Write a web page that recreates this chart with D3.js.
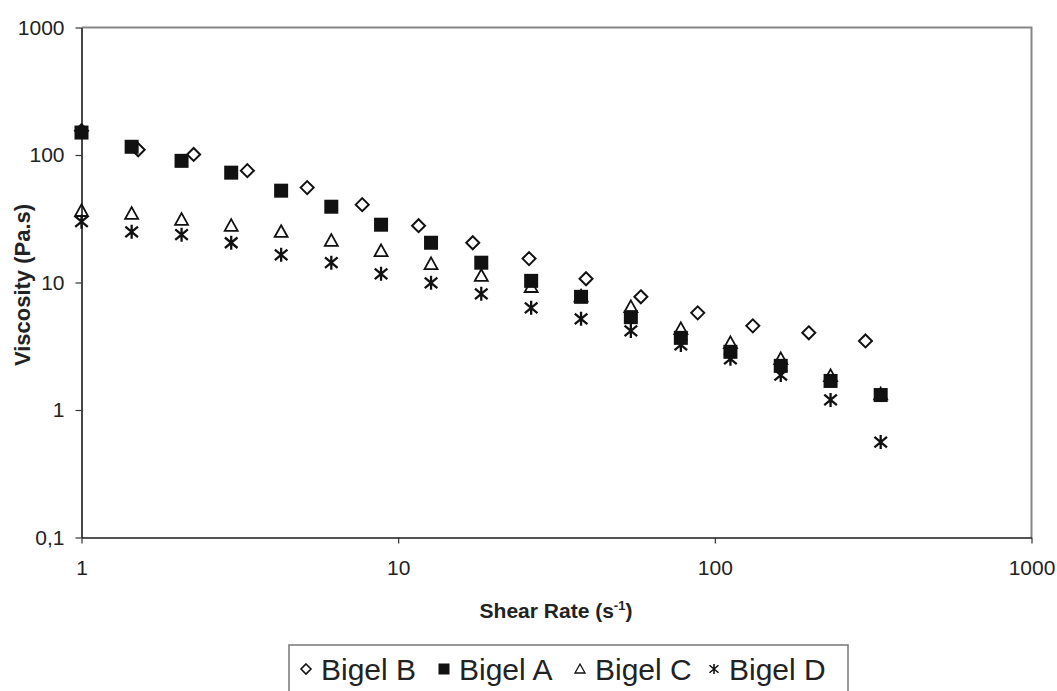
<!DOCTYPE html>
<html>
<head>
<meta charset="utf-8">
<script src="https://cdn.jsdelivr.net/npm/d3@7"></script>
<style>
  html, body { margin: 0; padding: 0; background: #fff; }
  svg { display: block; font-family: "Liberation Sans", Arial, sans-serif; }
</style>
</head>
<body>
<svg id="chart" width="1057" height="691"></svg>
<script>
// Shear rate (s^-1) for each series
const shearA = [1, 1.44, 2.07, 2.97, 4.27, 6.15, 8.83, 12.7, 18.3, 26.3, 37.8, 54.3, 78.1, 112, 161.5, 232, 334];
const shearB = [1, 1.51, 2.26, 3.34, 5.16, 7.7, 11.6, 17.2, 25.9, 39.2, 58.4, 88.3, 131.8, 198, 299];
const shearC = shearA;
const shearD = shearA;

// Viscosity (Pa.s)
const bigelB = [155, 110, 101, 75.4, 55.5, 40.8, 27.9, 20.5, 15.4, 10.7, 7.72, 5.78, 4.57, 4.03, 3.48];
const bigelA = [150, 116, 90, 72.7, 52.5, 39.3, 28.4, 20.5, 14.3, 10.3, 7.72, 5.35, 3.68, 2.86, 2.22, 1.69, 1.31];
const bigelC = [36.5, 34.7, 31.1, 27.9, 25.0, 21.3, 17.7, 14.0, 11.3, 9.25, 7.8, 6.44, 4.33, 3.36, 2.52, 1.85, 1.33];
const bigelD = [30.0, 25.0, 23.7, 20.5, 16.5, 14.3, 11.7, 9.95, 8.15, 6.33, 5.19, 4.17, 3.24, 2.52, 1.88, 1.20, 0.56];

const xTicks = [1, 10, 100, 1000];
const yTicks = [0.1, 1, 10, 100, 1000];
const yTickLabels = ["0,1", "1", "10", "100", "1000"];

const seriesList = [
  { name: "Bigel B", x: shearB, y: bigelB, marker: "diamond" },
  { name: "Bigel A", x: shearA, y: bigelA, marker: "square" },
  { name: "Bigel C", x: shearC, y: bigelC, marker: "triangle" },
  { name: "Bigel D", x: shearD, y: bigelD, marker: "asterisk" }
];

const svg = d3.select("#chart");
const plotLeft = 81.5, plotRight = 1031.5, plotTop = 27.5, plotBottom = 537.5;

const x = d3.scaleLog().domain([1, 1000]).range([plotLeft, plotRight]);
const y = d3.scaleLog().domain([0.1, 1000]).range([plotBottom, plotTop]);

// plot frame: gray top and right edges
svg.append("path")
  .attr("d", `M${plotLeft},${plotTop}H${plotRight}V${plotBottom}`)
  .attr("fill", "none").attr("stroke", "#858585").attr("stroke-width", 2);

// y axis
const yAxis = svg.append("g").attr("transform", `translate(${plotLeft},0)`)
  .call(d3.axisLeft(y).tickValues(yTicks)
    .tickFormat((d, i) => yTickLabels[i]).tickSizeOuter(0).tickSizeInner(6).tickPadding(11));
// x axis
const xAxis = svg.append("g").attr("transform", `translate(0,${plotBottom})`)
  .call(d3.axisBottom(x).tickValues(xTicks)
    .tickFormat(d3.format("d")).tickSizeOuter(0).tickSizeInner(6).tickPadding(17));

[yAxis, xAxis].forEach(g => {
  g.select(".domain").attr("stroke", "#1a1a1a").attr("stroke-width", 1.6);
  g.selectAll(".tick line").attr("stroke", "#333").attr("stroke-width", 1.2);
  g.selectAll(".tick text").attr("fill", "#222").style("font-size", "21px")
    .style("font-family", "'Liberation Sans', Arial, sans-serif");
});

// axis titles
svg.append("text")
  .attr("transform", "translate(30,285) rotate(-90)")
  .attr("text-anchor", "middle")
  .style("font-size", "22px").style("font-weight", "bold").attr("fill", "#222")
  .text("Viscosity (Pa.s)");

const xt = svg.append("text")
  .attr("x", 556).attr("y", 618)
  .attr("text-anchor", "middle")
  .style("font-size", "21px").style("font-weight", "bold").attr("fill", "#222");
xt.append("tspan").text("Shear Rate (s");
xt.append("tspan").attr("dy", -8).style("font-size", "13px").text("-1");
xt.append("tspan").attr("dy", 8).text(")");

// marker shapes
function drawMarker(g, type, s) {
  const h = s / 2;
  if (type === "square") {
    g.append("rect").attr("x", -h).attr("y", -h).attr("width", s).attr("height", s)
      .attr("fill", "#111");
  } else if (type === "diamond") {
    g.append("path").attr("d", `M0,${-h}L${h},0L0,${h}L${-h},0Z`)
      .attr("fill", "none").attr("stroke", "#111").attr("stroke-width", s > 11 ? 2 : 1.6);
  } else if (type === "triangle") {
    g.append("path").attr("d", `M0,${-h}L${h},${h * 0.8}L${-h},${h * 0.8}Z`)
      .attr("fill", "none").attr("stroke", "#111").attr("stroke-width", s > 11 ? 1.8 : 1.3);
  } else if (type === "asterisk") {
    g.append("path")
      .attr("d", `M0,${-h}V${h}M${-h * 0.9},${-h * 0.75}L${h * 0.9},${h * 0.75}M${-h * 0.9},${h * 0.75}L${h * 0.9},${-h * 0.75}`)
      .attr("fill", "none").attr("stroke", "#111").attr("stroke-width", s > 11 ? 2.3 : 1.6);
  }
}

const plot = svg.append("g");
seriesList.forEach(s => {
  const pts = s.x.map((xv, i) => [xv, s.y[i]]);
  plot.append("g").selectAll("g").data(pts).join("g")
    .attr("transform", d => `translate(${x(d[0])},${y(d[1])})`)
    .each(function () {
      const size = s.marker === "square" ? 14 : (s.marker === "asterisk" ? 14 : 13);
      drawMarker(d3.select(this), s.marker, size);
    });
});

// legend
const legend = svg.append("g");
legend.append("rect").attr("x", 289).attr("y", 645).attr("width", 559).attr("height", 70)
  .attr("fill", "#fff").attr("stroke", "#777").attr("stroke-width", 1.5);
const legendX = [306, 444, 580, 714];
seriesList.forEach((s, i) => {
  const g = legend.append("g").attr("transform", `translate(${legendX[i]},${669})`);
  drawMarker(g, s.marker, s.marker === "square" ? 11 : 10);
  g.append("text").attr("x", 15).attr("y", 11)
    .style("font-size", "30px").attr("fill", "#222").text(s.name);
});
</script>
</body>
</html>
